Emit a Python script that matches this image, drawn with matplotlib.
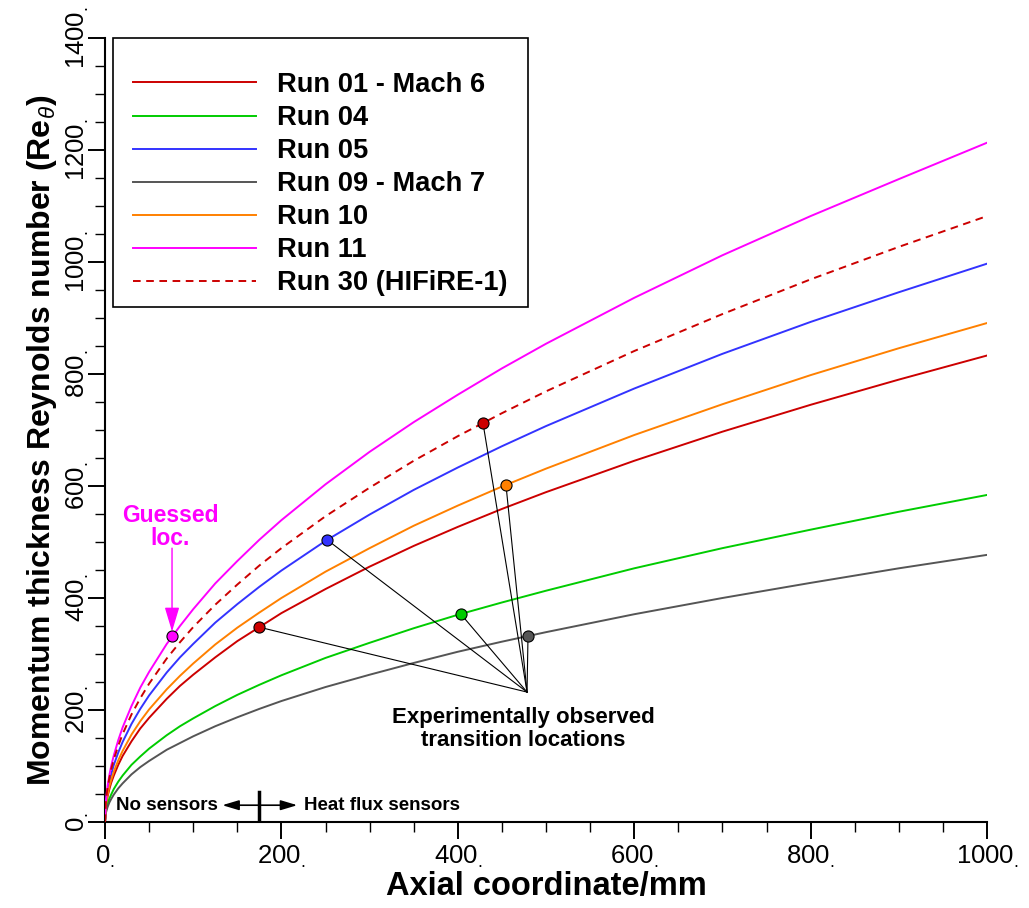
import matplotlib
matplotlib.use('Agg')
import matplotlib.pyplot as plt
from matplotlib.ticker import MultipleLocator, FuncFormatter
from matplotlib.patches import Rectangle

plt.rcParams['font.family'] = ['Liberation Sans', 'DejaVu Sans']
plt.rcParams['mathtext.fontset'] = 'custom'
plt.rcParams['mathtext.rm'] = 'Liberation Sans'
plt.rcParams['mathtext.it'] = 'Liberation Sans:italic'
plt.rcParams['mathtext.bf'] = 'Liberation Sans:bold'
plt.rcParams['lines.scale_dashes'] = False

# ---------------- data ----------------
x_mm = [0, 1, 2, 3, 5, 7, 10, 15, 20, 30, 40, 50, 70, 85, 100, 125, 150, 175, 200,
        250, 300, 350, 400, 450, 500, 600, 700, 800, 900, 1000]
run11 = [0, 37, 53, 65, 84, 100, 119, 146, 169, 207, 240, 268, 318, 350, 380, 426, 466, 504, 539,
         603, 661, 714, 763, 810, 854, 936, 1012, 1082, 1148, 1213]
run30 = [0, 36, 50, 62, 79, 94, 112, 136, 157, 192, 221, 247, 292, 321, 348, 388, 424, 458, 489,
         546, 597, 645, 689, 730, 769, 841, 907, 969, 1027, 1082]
run05 = [0, 32, 46, 56, 72, 85, 102, 124, 143, 175, 202, 226, 267, 294, 318, 356, 389, 420, 449,
         502, 549, 593, 633, 671, 707, 774, 836, 893, 946, 997]
run10 = [0, 29, 40, 49, 64, 75, 90, 110, 127, 156, 180, 201, 237, 261, 283, 317, 347, 374, 400,
         447, 489, 529, 565, 599, 631, 691, 746, 798, 846, 891]
run01 = [0, 26, 37, 46, 59, 70, 83, 102, 118, 144, 167, 186, 220, 243, 263, 294, 323, 348, 373,
         416, 456, 493, 527, 559, 589, 645, 697, 745, 790, 833]
run04 = [0, 19, 26, 32, 42, 49, 59, 72, 83, 102, 117, 131, 155, 171, 185, 207, 227, 245, 262,
         293, 320, 346, 370, 392, 413, 453, 489, 522, 554, 584]
run09 = [0, 16, 22, 27, 35, 41, 49, 60, 69, 85, 98, 109, 129, 141, 153, 171, 187, 202, 216,
         241, 263, 284, 304, 322, 339, 371, 400, 427, 453, 477]

labels = ['Run 01 - Mach 6', 'Run 04', 'Run 05', 'Run 09 - Mach 7',
          'Run 10', 'Run 11', 'Run 30 (HIFiRE-1)']
series = [run01, run04, run05, run09, run10, run11, run30]
colors = ['#CC0000', '#00CC00', '#3333FF', '#555555', '#FF8000', '#FF00FF', '#CC0000']
styles = ['-', '-', '-', '-', '-', '-', '--']

# observed transition locations (same order as runs)
trans_x = [174.6, 403.6, 251.7, 479.6, 454.6, 76.0, 428.6]
trans_y = [348, 371, 504, 332, 602, 332, 712]
guessed = [False, False, False, False, False, True, False]
converge_x, converge_y = 478.5, 232

xticks = [0, 200, 400, 600, 800, 1000]
yticks = [0, 200, 400, 600, 800, 1000, 1200, 1400]

# ---------------- figure ----------------
fig = plt.figure(figsize=(10.29, 9.08), dpi=100)
ax = fig.add_axes([105/1029, 86/908, 882/1029, 784/908])
ax.set_xlim(0, 1000)
ax.set_ylim(0, 1400)

for ys, c, ls, lab in zip(series, colors, styles, labels):
    if ls == '--':
        ax.plot(x_mm, ys, color=c, lw=1.4, dashes=(5.5, 4), label=lab, zorder=3)
    else:
        ax.plot(x_mm, ys, color=c, lw=1.4, label=lab, zorder=3)

# connector lines
for tx, ty, g in zip(trans_x, trans_y, guessed):
    if not g:
        ax.plot([tx, converge_x], [ty, converge_y], color='black', lw=0.8, zorder=4)

for tx, ty, c in zip(trans_x, trans_y, colors):
    ax.plot([tx], [ty], 'o', ms=8, mfc=c, mec='black', mew=0.8, zorder=6)

# annotations
ax.text(474, 166, 'Experimentally observed\ntransition locations', ha='center', va='center',
        fontsize=16, fontweight='bold', linespacing=1.15, zorder=7)
ax.text(73.7, 527, 'Guessed\nloc.', ha='center', va='center', fontsize=16.5,
        fontweight='bold', color='#FF00FF', linespacing=1.0)
ax.annotate('', xy=(trans_x[5], trans_y[5] + 8), xytext=(trans_x[5], 489),
            arrowprops=dict(arrowstyle='-|>,head_length=1.5,head_width=0.45',
                            color='#FF00FF', lw=1.0, shrinkA=0, shrinkB=0))

ax.text(12.5, 30, 'No sensors', ha='left', va='center', fontsize=13.5, fontweight='bold')
ax.text(225.6, 30, 'Heat flux sensors', ha='left', va='center', fontsize=13.5, fontweight='bold')
ax.annotate('', xy=(133, 30), xytext=(174.6, 30),
            arrowprops=dict(arrowstyle='-|>,head_length=1.0,head_width=0.3',
                            color='black', lw=1.2, shrinkA=0, shrinkB=0))
ax.annotate('', xy=(218, 30), xytext=(174.6, 30),
            arrowprops=dict(arrowstyle='-|>,head_length=1.0,head_width=0.3',
                            color='black', lw=1.2, shrinkA=0, shrinkB=0))
ax.plot([174.6, 174.6], [6, 54], color='black', lw=2.5)

# axes styling
for s in ['top', 'right']:
    ax.spines[s].set_visible(False)
for s in ['left', 'bottom']:
    ax.spines[s].set_linewidth(1.5)

ax.set_xticks(xticks)
ax.set_yticks(yticks)
ax.xaxis.set_minor_locator(MultipleLocator(50))
ax.yaxis.set_minor_locator(MultipleLocator(50))
fmt = FuncFormatter(lambda v, p: r'$\mathregular{%d_{.}}$' % int(round(v)))
ax.xaxis.set_major_formatter(fmt)
ax.yaxis.set_major_formatter(fmt)
ax.tick_params(which='major', direction='out', length=12.5, width=1.4, labelsize=18.5)
ax.tick_params(which='minor', direction='out', length=7.5, width=1.0)
ax.tick_params(axis='x', which='major', pad=3)
ax.tick_params(axis='y', which='major', pad=-2.5)
for t in ax.get_yticklabels():
    t.set_rotation(90)
    t.set_va('center')
    t.set_family(['Liberation Sans Narrow', 'Liberation Sans'])

ax.set_xlabel('Axial coordinate/mm', fontsize=23.5, fontweight='bold')
ax.set_ylabel(r'Momentum thickness Reynolds number (Re$_{\theta}$)', fontsize=23,
              fontweight='bold')
ax.xaxis.set_label_coords(0.5, -0.062)
ax.yaxis.set_label_coords(-0.052, 0.487)

# legend
leg = ax.legend(loc='upper left', bbox_to_anchor=(133/1029, 1 - 72/908),
                bbox_transform=fig.transFigure, frameon=False,
                prop={'weight': 'bold', 'size': 19.6}, handlelength=4.5,
                handletextpad=0.8, labelspacing=0.26, borderpad=0, borderaxespad=0)
for h in leg.get_lines():
    h.set_linewidth(1.4)
leg.set_zorder(10)
frame = Rectangle((113/1029, 1 - 307/908), 415/1029, 269/908,
                  transform=fig.transFigure, fill=False,
                  edgecolor='black', lw=1.2, zorder=9, clip_on=False)
ax.add_patch(frame)

fig.savefig('out.png', dpi=100)
